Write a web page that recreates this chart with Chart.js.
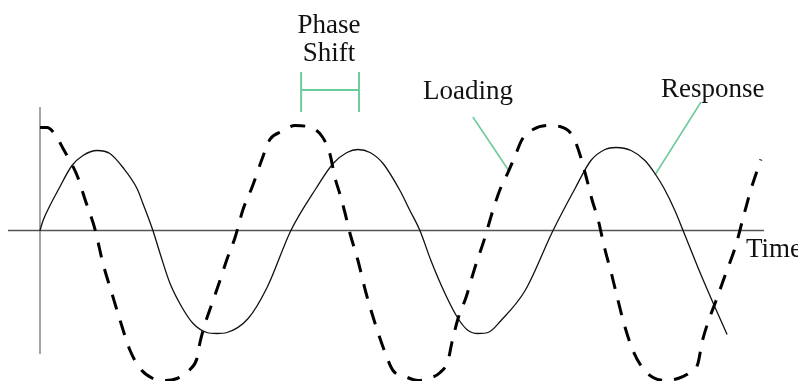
<!DOCTYPE html>
<html>
<head>
<meta charset="utf-8">
<script src="https://cdn.jsdelivr.net/npm/chart.js@4/dist/chart.umd.min.js"></script>
<style>
html,body{margin:0;padding:0;background:#fff;}
#wrap{width:798px;height:381px;position:relative;}
</style>
</head>
<body>
<div id="wrap"><canvas id="c"></canvas></div>
<script>
// Loading (dashed) curve: time and amplitude
const loadingT = [0.00,0.27,0.59,0.90,1.25,1.48,1.76,2.15,2.46,2.81,3.13,3.52,3.91,4.41,4.88,5.35,5.86,6.13,6.25,6.45,6.72,7.03,7.30,7.62,7.93,8.28,8.71,8.98,9.45,9.96,10.43,11.02,11.33,11.52,11.72,11.91,12.11,12.42,12.73,13.09,13.48,13.79,14.26,14.77,15.16,15.63,15.94,16.09,16.33,16.64,16.99,17.38,17.70,17.97,18.28,18.55,18.83,19.26,19.84,20.31,20.82,21.09,21.33,21.56,21.80,22.03,22.34,22.58,22.81,23.16,23.55,23.95,24.41,24.92,25.39,25.70,25.86,26.09,26.41,26.76,27.19,27.50,27.77,28.16];
const loadingV = [1.03,1.03,0.96,0.82,0.66,0.53,0.31,0.01,-0.33,-0.63,-0.90,-1.20,-1.38,-1.48,-1.50,-1.48,-1.39,-1.28,-1.12,-0.93,-0.73,-0.50,-0.29,-0.07,0.21,0.43,0.74,0.91,0.99,1.05,1.04,0.94,0.76,0.53,0.36,0.18,-0.03,-0.30,-0.62,-0.93,-1.22,-1.40,-1.46,-1.50,-1.48,-1.42,-1.30,-1.12,-0.88,-0.67,-0.37,-0.07,0.21,0.41,0.58,0.74,0.91,1.01,1.05,1.04,0.94,0.76,0.54,0.31,0.11,-0.15,-0.45,-0.70,-0.93,-1.20,-1.38,-1.47,-1.50,-1.48,-1.42,-1.33,-1.12,-0.92,-0.70,-0.45,-0.14,0.16,0.41,0.71];

// Response (solid) curve
const responseT = [0.00,0.12,0.39,0.70,1.25,1.68,2.23,2.73,3.24,3.79,4.02,4.41,4.69,5.08,5.55,5.98,6.52,6.91,7.30,8.13,8.87,9.80,10.78,11.45,11.99,12.42,12.89,13.40,14.06,14.45,14.84,15.27,15.82,16.33,16.72,17.11,17.50,18.01,18.95,20.04,20.90,21.52,22.07,22.50,23.09,23.63,24.02,24.38,24.80,25.12,25.70,26.37,26.84];
const responseV = [0.00,0.10,0.25,0.40,0.65,0.75,0.80,0.77,0.63,0.42,0.27,0.00,-0.23,-0.53,-0.77,-0.93,-1.02,-1.03,-1.02,-0.88,-0.57,0.00,0.42,0.67,0.78,0.81,0.78,0.67,0.40,0.20,0.00,-0.30,-0.63,-0.88,-1.00,-1.03,-1.02,-0.90,-0.60,0.00,0.42,0.70,0.81,0.83,0.80,0.70,0.57,0.42,0.20,0.00,-0.37,-0.77,-1.04];

// Axes (time axis and amplitude axis extents)
const timeAxisT = [-1.25, 28.28];
const timeAxisV = [0, 0];
const ampAxisT = [0, 0];
const ampAxisV = [1.235, -1.235];

// Annotations
const phaseStart = 10.20, phaseEnd = 12.46, phaseLevel = 1.405, phaseTop = 1.585, phaseBottom = 1.185;
const loadingLeaderT = [16.91, 18.32], loadingLeaderV = [1.135, 0.595];
const responseLeaderT = [25.82, 24.02], responseLeaderV = [1.285, 0.555];

const labels = [
  {text:'Phase', t:11.29, v:1.975, align:'center'},
  {text:'Shift', t:11.29, v:1.695, align:'center'},
  {text:'Loading', t:14.96, v:1.315, align:'left'},
  {text:'Response', t:24.26, v:1.335, align:'left'},
  {text:'Time', t:27.58, v:-0.265, align:'left'}
];

const zip = (xs, ys) => xs.map((x, i) => ({x: x, y: ys[i]}));
const green = 'rgb(109,204,155)';

const datasets = [
  {data: zip(loadingT, loadingV), borderColor:'#000', borderWidth:3, borderDash:[15,12], cubicInterpolationMode:'monotone', order:1},
  {data: zip(responseT, responseV), borderColor:'#111', borderWidth:1.3, cubicInterpolationMode:'monotone', order:2},
  {data: zip(timeAxisT, timeAxisV), borderColor:'#555', borderWidth:1.3, tension:0, order:3},
  {data: zip(ampAxisT, ampAxisV), borderColor:'#888', borderWidth:1.5, tension:0, order:3},
  {data: zip([phaseStart, phaseEnd], [phaseLevel, phaseLevel]), borderColor:green, borderWidth:2, tension:0, order:4},
  {data: zip([phaseStart, phaseStart], [phaseTop, phaseBottom]), borderColor:green, borderWidth:2, tension:0, order:4},
  {data: zip([phaseEnd, phaseEnd], [phaseTop, phaseBottom]), borderColor:green, borderWidth:2, tension:0, order:4},
  {data: zip(loadingLeaderT, loadingLeaderV), borderColor:green, borderWidth:1.6, tension:0, order:4},
  {data: zip(responseLeaderT, responseLeaderV), borderColor:green, borderWidth:1.6, tension:0, order:4}
];
datasets.forEach(d => { d.pointRadius = 0; d.fill = false; d.borderCapStyle = 'butt'; });

const textPlugin = {
  id: 'textLabels',
  afterDatasetsDraw(chart) {
    const ctx = chart.ctx;
    const xs = chart.scales.x, ys = chart.scales.y;
    ctx.save();
    ctx.fillStyle = '#111';
    ctx.font = '27px "Liberation Serif", serif';
    ctx.textBaseline = 'alphabetic';
    labels.forEach(l => {
      ctx.textAlign = l.align;
      ctx.fillText(l.text, xs.getPixelForValue(l.t), ys.getPixelForValue(l.v));
    });
    ctx.restore();
  }
};

new Chart(document.getElementById('c'), {
  type: 'line',
  data: {datasets: datasets},
  options: {
    responsive: true,
    maintainAspectRatio: false,
    animation: false,
    layout: {padding: 0},
    plugins: {legend: {display:false}, tooltip: {enabled:false}},
    scales: {
      x: {type:'linear', display:false, min:-1.5625, max:29.609},
      y: {type:'linear', display:false, min:-1.505, max:2.305}
    }
  },
  plugins: [textPlugin]
});
</script>
</body>
</html>
